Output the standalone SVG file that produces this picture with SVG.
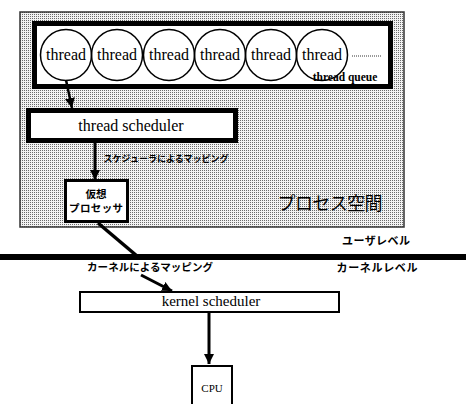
<svg xmlns="http://www.w3.org/2000/svg" width="466" height="404" viewBox="0 0 466 404">
<defs>
<pattern id="dots" width="2" height="2" patternUnits="userSpaceOnUse">
<rect width="2" height="2" fill="#f2f2f2"/>
<rect width="1" height="1" fill="#6a6a6a"/>
</pattern>
<marker id="ah" viewBox="0 0 10 10" refX="10" refY="5" markerWidth="10" markerHeight="10" markerUnits="userSpaceOnUse" orient="auto">
<path d="M0,0 L10,5 L0,10 z" fill="#000"/>
</marker>
</defs>
<style>
.serif{font-family:"Liberation Serif","Times New Roman",serif;fill:#000}
.jp{font-family:"Noto Sans CJK JP","Noto Sans",sans-serif;fill:#000}
.box{fill:#fff;stroke:#000}
.conn{stroke:#000;fill:none}
</style>
<rect width="466" height="404" fill="#fff"/>
<g id="process-space">
<rect x="20" y="12" width="384" height="215" fill="url(#dots)" stroke="#333" stroke-width="1.5"/>
<text class="jp" x="330" y="210" font-size="18" text-anchor="middle" textLength="105">プロセス空間</text>
</g>
<g id="thread-queue">
<rect class="box" x="34.5" y="23.5" width="356" height="63" stroke-width="5"/>
<line x1="352" y1="56" x2="381" y2="56" stroke="#000" stroke-width="0.8" stroke-dasharray="1 1"/>
<text class="serif" x="345" y="81" font-size="11.5" font-weight="bold" text-anchor="middle">thread queue</text>
</g>
<g id="thread-1"><circle cx="66" cy="55" r="25.5" fill="none" stroke="#000" stroke-width="1.5"/><text class="serif" x="66" y="60" font-size="16" text-anchor="middle">thread</text></g>
<g id="thread-2"><circle cx="117" cy="55" r="25.5" fill="none" stroke="#000" stroke-width="1.5"/><text class="serif" x="117" y="60" font-size="16" text-anchor="middle">thread</text></g>
<g id="thread-3"><circle cx="169" cy="55" r="25.5" fill="none" stroke="#000" stroke-width="1.5"/><text class="serif" x="169" y="60" font-size="16" text-anchor="middle">thread</text></g>
<g id="thread-4"><circle cx="220" cy="55" r="25.5" fill="none" stroke="#000" stroke-width="1.5"/><text class="serif" x="220" y="60" font-size="16" text-anchor="middle">thread</text></g>
<g id="thread-5"><circle cx="271" cy="55" r="25.5" fill="none" stroke="#000" stroke-width="1.5"/><text class="serif" x="271" y="60" font-size="16" text-anchor="middle">thread</text></g>
<g id="thread-6"><circle cx="322" cy="55" r="25.5" fill="none" stroke="#000" stroke-width="1.5"/><text class="serif" x="322" y="60" font-size="16" text-anchor="middle">thread</text></g>
<g id="thread-scheduler">
<rect class="box" x="28.5" y="110.5" width="207" height="30" stroke-width="5"/>
<text class="serif" x="131" y="131" font-size="16" text-anchor="middle">thread scheduler</text>
</g>
<g id="virtual-processor">
<rect class="box" x="65.5" y="180.5" width="62" height="41" stroke-width="3"/>
<text class="jp" x="96" y="198" font-size="10.5" font-weight="bold" text-anchor="middle">仮想</text>
<text class="jp" x="96" y="212" font-size="10.5" font-weight="bold" text-anchor="middle" textLength="54">プロセッサ</text>
</g>
<g id="level-divider">
<rect x="0" y="254" width="466" height="6" fill="#000"/>
<text class="jp" x="376" y="245" font-size="11" font-weight="bold" text-anchor="middle" textLength="68">ユーザレベル</text>
<text class="jp" x="377" y="272" font-size="11" font-weight="bold" text-anchor="middle" textLength="81">カーネルレベル</text>
</g>
<g id="kernel-scheduler">
<rect class="box" x="80" y="292" width="259" height="20" stroke-width="2"/>
<text class="serif" x="211" y="306" font-size="15" text-anchor="middle">kernel scheduler</text>
</g>
<g id="cpu">
<rect class="box" x="192" y="366" width="40" height="45" stroke-width="2"/>
<text class="serif" x="212" y="392" font-size="11" text-anchor="middle">CPU</text>
</g>
<g id="connectors">
<line class="conn" x1="66" y1="80" x2="72" y2="108" stroke-width="2.5" marker-end="url(#ah)"/>
<line class="conn" x1="95" y1="143" x2="95" y2="180" stroke-width="3" marker-end="url(#ah)"/>
<text class="jp" x="166" y="162" font-size="9" font-weight="bold" text-anchor="middle" textLength="125">スケジューラによるマッピング</text>
<line class="conn" x1="98" y1="223" x2="137" y2="256" stroke-width="3.5"/>
<line class="conn" x1="141" y1="275" x2="172" y2="291" stroke-width="3" marker-end="url(#ah)"/>
<text class="jp" x="150" y="271" font-size="10.5" font-weight="bold" text-anchor="middle" textLength="126">カーネルによるマッピング</text>
<line class="conn" x1="209" y1="313" x2="209" y2="364" stroke-width="3" marker-end="url(#ah)"/>
</g>
</svg>
